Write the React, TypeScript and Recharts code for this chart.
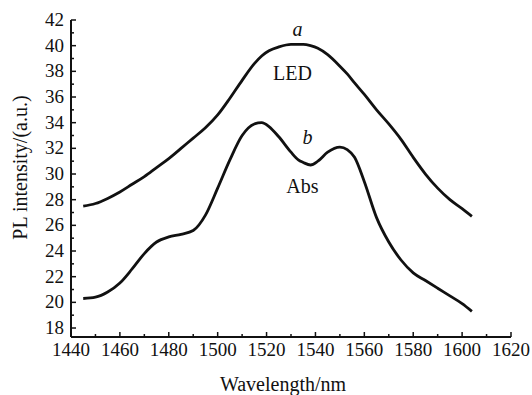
import { LineChart, Line, XAxis, YAxis, ReferenceDot, Label } from "recharts";

const wavelengths = [
  1445, 1450, 1455, 1460, 1465, 1470, 1475, 1480, 1485, 1490, 1495, 1500, 1505, 1510, 1515, 1518,
  1521, 1525, 1530, 1533, 1535, 1538, 1541, 1545, 1550, 1553, 1556, 1560, 1565, 1570, 1575, 1580,
  1585, 1590, 1595, 1600, 1604,
];

const ledValues = [
  27.5, 27.7, 28.1, 28.6, 29.2, 29.8, 30.5, 31.2, 32.0, 32.8, 33.6, 34.6, 35.9, 37.3, 38.6, 39.2,
  39.6, 39.9, 40.1, 40.1, 40.1, 40.0, 39.8, 39.3, 38.4, 37.8, 37.1, 36.2, 35.0, 33.9, 32.7, 31.3,
  30.0, 28.9, 28.0, 27.3, 26.7,
];

const absValues = [
  20.3, 20.4, 20.8, 21.5, 22.6, 23.8, 24.7, 25.1, 25.3, 25.6, 26.8, 28.9, 31.1, 33.0, 33.9, 34.0,
  33.7, 32.9, 31.7, 31.1, 30.9, 30.7, 31.0, 31.7, 32.1, 31.9, 31.3, 29.4, 26.6, 24.7, 23.3, 22.3,
  21.7, 21.1, 20.5, 19.9, 19.3,
];

const xTicks = [
  1440, 1450, 1460, 1470, 1480, 1490, 1500, 1510, 1520, 1530, 1540, 1550, 1560, 1570, 1580, 1590,
  1600, 1610, 1620,
];
const yTicks = [
  18, 19, 20, 21, 22, 23, 24, 25, 26, 27, 28, 29, 30, 31, 32, 33, 34, 35, 36, 37, 38, 39, 40, 41, 42,
];

const data = wavelengths.map((w, i) => ({ w, led: ledValues[i], abs: absValues[i] }));

const font = "'Liberation Serif', 'Times New Roman', serif";

function XTick(props: any) {
  const { x, y, payload } = props;
  const major = payload.value % 20 === 0;
  return (
    <g>
      <line x1={x} x2={x} y1={y} y2={y - (major ? 5 : 3)} stroke="#111" strokeWidth={1.5} />
      {major && (
        <text x={x} y={y + 19} textAnchor="middle" fontSize={19} fontFamily={font} fill="#111">
          {payload.value}
        </text>
      )}
    </g>
  );
}

function YTick(props: any) {
  const { x, y, payload } = props;
  const major = payload.value % 2 === 0;
  return (
    <g>
      <line x1={x} x2={x + (major ? 5 : 3)} y1={y} y2={y} stroke="#111" strokeWidth={1.5} />
      {major && (
        <text x={x - 7} y={y + 6} textAnchor="end" fontSize={19} fontFamily={font} fill="#111">
          {payload.value}
        </text>
      )}
    </g>
  );
}

function YTitle(props: any) {
  const { viewBox } = props;
  const cx = 20;
  const cy = viewBox.y + viewBox.height / 2 - 11;
  return (
    <text
      x={cx}
      y={cy}
      transform={`rotate(-90 ${cx} ${cy})`}
      textAnchor="middle"
      dominantBaseline="central"
      fontSize={20}
      fontFamily={font}
      fill="#111"
    >
      PL intensity/(a.u.)
    </text>
  );
}

export default function App() {
  return (
    <div style={{ position: "absolute", left: 0, top: 0, background: "#fff" }}>
      <LineChart width={532} height={395} data={data} margin={{ top: 20, right: 21, left: 0, bottom: 0 }}>
        <XAxis
          dataKey="w"
          type="number"
          domain={[1440, 1620]}
          ticks={xTicks}
          interval={0}
          height={58}
          tickSize={0}
          tickMargin={0}
          tickLine={false}
          tick={<XTick />}
          axisLine={{ stroke: "#111", strokeWidth: 2 }}
        >
          <Label
            value="Wavelength/nm"
            position="insideBottom"
            offset={4}
            dx={-8}
            style={{ fontSize: 20, fontFamily: font, fill: "#111" }}
          />
        </XAxis>
        <YAxis
          type="number"
          domain={[17.3, 42]}
          ticks={yTicks}
          interval={0}
          width={71}
          tickSize={0}
          tickMargin={0}
          tickLine={false}
          tick={<YTick />}
          axisLine={{ stroke: "#111", strokeWidth: 2 }}
          allowDataOverflow
        >
          <Label content={<YTitle />} />
        </YAxis>
        <Line
          dataKey="led"
          type="monotone"
          stroke="#111"
          strokeWidth={2.8}
          dot={false}
          isAnimationActive={false}
        />
        <Line
          dataKey="abs"
          type="monotone"
          stroke="#111"
          strokeWidth={2.8}
          dot={false}
          isAnimationActive={false}
        />
        <ReferenceDot x={1532.7} y={41.3} r={0} stroke="none" fill="none">
          <Label value="a" position="center" style={{ fontSize: 20, fontFamily: font, fontStyle: "italic", fill: "#111" }} />
        </ReferenceDot>
        <ReferenceDot x={1530.6} y={37.9} r={0} stroke="none" fill="none">
          <Label value="LED" position="center" style={{ fontSize: 20, fontFamily: font, fill: "#111" }} />
        </ReferenceDot>
        <ReferenceDot x={1536.7} y={32.9} r={0} stroke="none" fill="none">
          <Label value="b" position="center" style={{ fontSize: 20, fontFamily: font, fontStyle: "italic", fill: "#111" }} />
        </ReferenceDot>
        <ReferenceDot x={1534.7} y={29.1} r={0} stroke="none" fill="none">
          <Label value="Abs" position="center" style={{ fontSize: 20, fontFamily: font, fill: "#111" }} />
        </ReferenceDot>
      </LineChart>
    </div>
  );
}
